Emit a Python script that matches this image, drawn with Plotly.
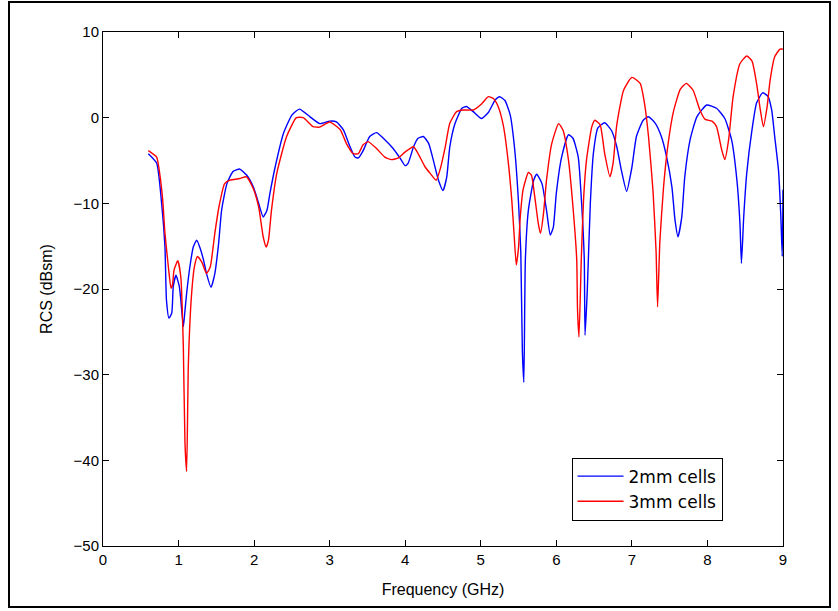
import plotly.graph_objects as go

freq_2mm = [0.60,0.71,0.78,0.82,0.84,0.873,0.91,0.93,0.966,1.01,1.03,1.063,1.08,1.107,1.15,1.195,1.24,1.28,1.33,1.37,1.43,1.48,1.53,1.57,1.64,1.72,1.81,1.90,1.99,2.06,2.12,2.17,2.21,2.28,2.39,2.50,2.60,2.74,2.87,3.00,3.09,3.18,3.27,3.335,3.38,3.44,3.53,3.62,3.71,3.84,3.93,4.00,4.04,4.11,4.17,4.24,4.31,4.37,4.44,4.50,4.55,4.59,4.66,4.75,4.81,4.90,5.01,5.10,5.19,5.25,5.32,5.39,5.45,5.50,5.53,5.55,5.57,5.59,5.63,5.70,5.74,5.81,5.87,5.92,5.96,6.00,6.07,6.16,6.22,6.29,6.34,6.37,6.38,6.41,6.45,6.49,6.55,6.64,6.73,6.80,6.86,6.93,7.00,7.06,7.15,7.22,7.31,7.39,7.46,7.53,7.57,7.61,7.66,7.70,7.77,7.86,7.99,8.12,8.23,8.32,8.39,8.43,8.45,8.48,8.52,8.59,8.65,8.73,8.80,8.85,8.89,8.94,8.97,8.99,9.00]
rcs_2mm = [-4.2,-5.3,-10.4,-15.1,-21.3,-23.4,-22.8,-19.7,-18.4,-19.7,-21.3,-24.4,-23.0,-20.5,-17.4,-15.1,-14.3,-15.1,-16.6,-18.2,-19.8,-18.2,-14.7,-10.8,-7.7,-6.3,-6.0,-6.7,-8.1,-10.0,-11.6,-10.8,-8.8,-5.7,-1.8,0.3,1.0,0.1,-0.7,-0.4,-0.5,-1.4,-3.4,-4.6,-4.7,-3.9,-2.2,-1.75,-2.4,-3.6,-4.7,-5.6,-5.3,-3.4,-2.4,-2.2,-3.0,-4.9,-7.3,-8.5,-6.9,-3.4,-0.66,1.1,1.3,0.7,-0.1,0.6,2.06,2.45,2.0,0.3,-3.8,-10.0,-15.8,-27.1,-30.9,-16.6,-10.8,-7.3,-6.6,-7.7,-10.8,-13.7,-12.8,-8.8,-4.6,-2.0,-2.4,-4.6,-10.8,-16.6,-25.4,-20.1,-10.0,-4.2,-1.2,-0.6,-1.5,-3.4,-6.1,-8.6,-5.8,-2.2,-0.3,0.1,-0.66,-2.2,-4.6,-8.1,-11.9,-13.9,-11.6,-6.9,-2.6,0.1,1.48,1.1,-0.1,-2.6,-7.3,-12.3,-17.0,-11.6,-6.5,-1.4,1.7,2.9,2.5,0.9,-2.2,-6.1,-11.2,-16.2,-8.4]

freq_3mm = [0.60,0.71,0.75,0.79,0.82,0.865,0.90,0.92,0.94,0.99,1.03,1.063,1.085,1.107,1.13,1.17,1.21,1.25,1.31,1.37,1.42,1.48,1.535,1.61,1.68,1.81,1.90,1.99,2.06,2.12,2.16,2.19,2.23,2.30,2.43,2.56,2.65,2.78,2.87,3.00,3.14,3.22,3.31,3.38,3.44,3.51,3.62,3.73,3.82,3.91,4.00,4.11,4.17,4.26,4.33,4.41,4.46,4.53,4.59,4.68,4.77,4.90,5.01,5.10,5.17,5.23,5.30,5.36,5.41,5.44,5.47,5.50,5.52,5.56,5.63,5.67,5.72,5.76,5.79,5.83,5.87,5.94,6.03,6.09,6.16,6.22,6.27,6.28,6.30,6.33,6.36,6.40,6.47,6.51,6.58,6.64,6.71,6.75,6.80,6.89,7.00,7.11,7.17,7.22,7.28,7.32,7.34,7.37,7.42,7.48,7.55,7.64,7.72,7.81,7.90,7.97,8.06,8.12,8.19,8.23,8.28,8.34,8.43,8.52,8.59,8.65,8.70,8.74,8.79,8.83,8.89,8.96,9.00]
rcs_3mm = [-3.85,-4.6,-6.5,-9.6,-13.5,-17.4,-19.9,-19.5,-17.8,-16.7,-18.6,-26.7,-38.0,-41.3,-28.7,-20.9,-17.4,-16.2,-16.9,-18.2,-17.4,-13.5,-10.4,-7.7,-7.3,-7.1,-6.9,-8.3,-10.4,-13.9,-15.1,-14.3,-10.8,-6.5,-2.2,0.0,0.0,-1.05,-1.1,-0.5,-1.4,-3.0,-4.2,-4.2,-3.2,-2.8,-3.6,-4.6,-4.9,-4.7,-4.0,-3.4,-4.2,-5.7,-6.5,-7.3,-6.1,-3.4,-0.66,0.7,0.9,0.9,1.6,2.45,2.2,1.3,-1.0,-4.9,-9.6,-13.5,-17.2,-15.1,-11.9,-8.4,-6.4,-6.7,-9.6,-12.3,-13.5,-11.2,-7.3,-3.0,-0.7,-1.5,-4.9,-10.4,-16.6,-22.3,-25.6,-16.6,-9.6,-4.9,-1.05,-0.3,-0.85,-4.2,-6.9,-5.4,-0.85,3.2,4.7,4.0,1.5,-2.2,-8.6,-15.6,-22.1,-14.5,-8.0,-3.0,0.7,3.3,4.0,3.2,0.9,-0.2,-0.4,-1.05,-3.8,-4.9,-2.6,2.45,6.3,7.2,6.6,4.0,0.9,-1.05,1.3,4.4,7.1,8.0,8.0]

x_ticks = [0, 1, 2, 3, 4, 5, 6, 7, 8, 9]
y_ticks = [-50, -40, -30, -20, -10, 0, 10]

font_family = "Liberation Sans, Arial, sans-serif"

fig = go.Figure()
fig.add_trace(go.Scatter(x=freq_2mm, y=rcs_2mm, mode="lines", name="2mm cells",
                         line=dict(color="#0000ff", width=1.4, shape="spline", smoothing=0.5)))
fig.add_trace(go.Scatter(x=freq_3mm, y=rcs_3mm, mode="lines", name="3mm cells",
                         line=dict(color="#ff0000", width=1.4, shape="spline", smoothing=0.5)))

axis_common = dict(showline=True, linecolor="black", linewidth=1, mirror="ticks",
                   ticks="inside", ticklen=6, tickcolor="black", showgrid=False,
                   zeroline=False, tickfont=dict(family=font_family, size=15, color="black"))

fig.update_layout(
    width=838, height=611,
    margin=dict(l=103, r=55, t=32, b=65),
    paper_bgcolor="white", plot_bgcolor="white",
    font=dict(family=font_family, size=15, color="black"),
    xaxis=dict(range=[0, 9], tickvals=x_ticks,
               title=dict(text="Frequency (GHz)", font=dict(size=16), standoff=16),
               **axis_common),
    yaxis=dict(range=[-50, 10], tickvals=y_ticks,
               title=dict(text="RCS (dBsm)", font=dict(size=16), standoff=16),
               **axis_common),
    legend=dict(x=0.689, y=0.172, xanchor="left", yanchor="top",
                bgcolor="white", bordercolor="black", borderwidth=1,
                itemwidth=46, tracegroupgap=0,
                font=dict(size=17, family="DejaVu Sans, sans-serif")),
    showlegend=True,
)

fig.add_shape(type="rect", xref="paper", yref="paper",
              x0=-94/680, x1=(830-103)/680, y0=-(607-546)/514, y1=(546-2)/514,
              line=dict(color="black", width=2), fillcolor="rgba(0,0,0,0)", layer="below")

fig.write_html("out.html")
